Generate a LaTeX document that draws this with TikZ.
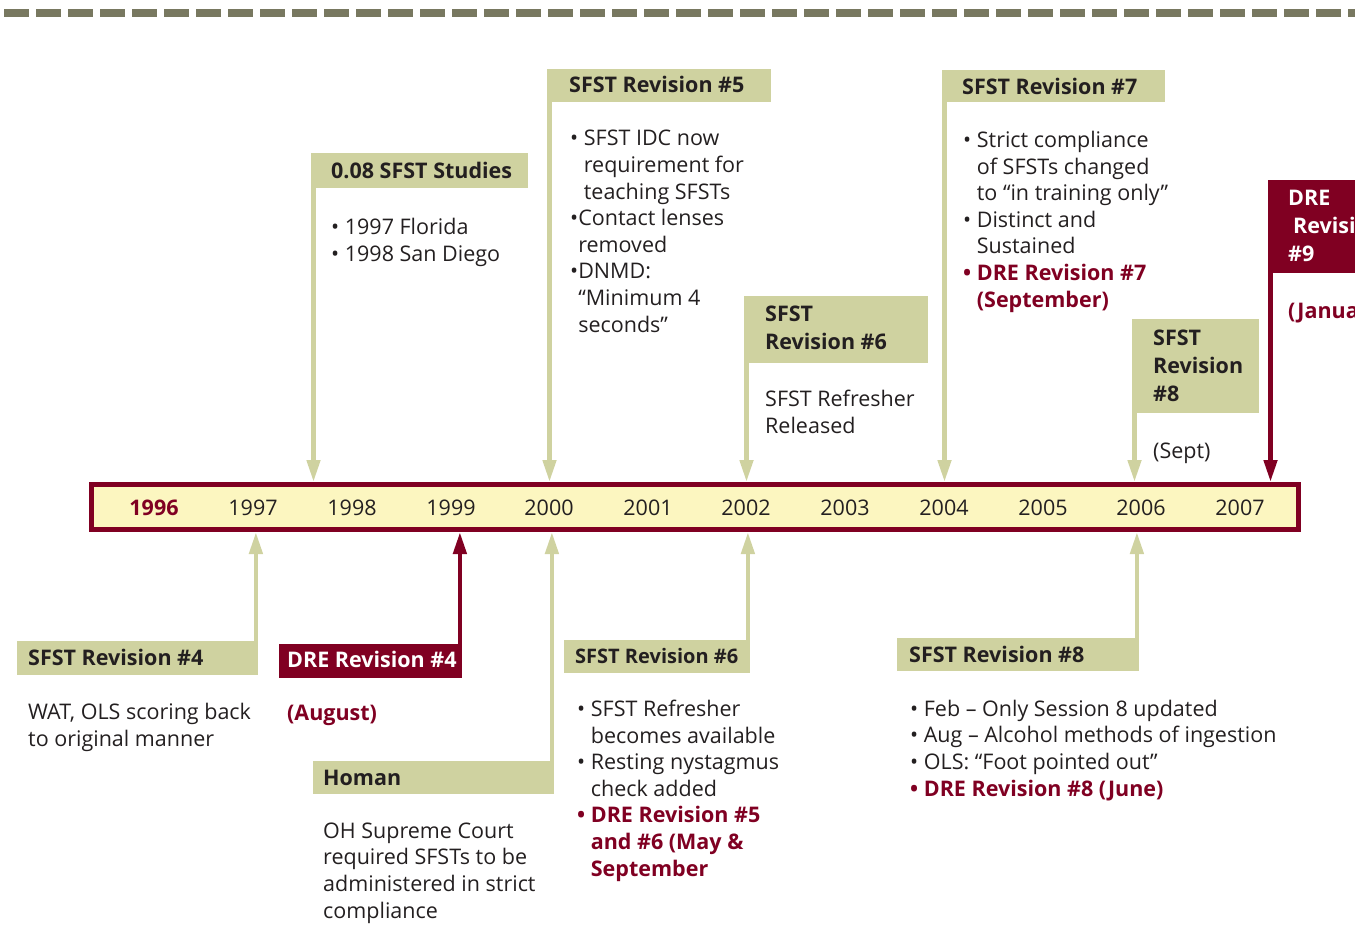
\documentclass[tikz,border=0pt]{standalone}
\usepackage{fontspec}
\setmainfont{Open Sans}
\usepackage{tikz}
\usetikzlibrary{arrows.meta}
\definecolor{olv}{HTML}{CFD2A0}
\definecolor{dr}{HTML}{800022}
\definecolor{yl}{HTML}{FCF6C0}
\definecolor{dsh}{HTML}{787860}
\definecolor{txt}{HTML}{231F20}
\tikzstyle{hbox} = [fill=olv, inner sep=0pt, anchor=north west]
\tikzstyle{rbox} = [fill=dr, inner sep=0pt, anchor=north west]
\tikzstyle{htxt} = [anchor=base west, inner sep=0pt, align=left, text=txt, font=\bfseries\fontsize{21.5}{28}\selectfont]
\tikzstyle{btxt} = [anchor=base west, inner sep=0pt, align=left, text=txt, font=\fontsize{21.5}{26.6}\selectfont]
\tikzstyle{yr} = [anchor=base, inner sep=0pt, text=txt, font=\fontsize{21.5}{26}\selectfont]
\tikzstyle{conn} = [line width=4.5pt, olv, -{Triangle[length=22pt,width=13pt]}]
\tikzstyle{rconn} = [line width=4.5pt, dr, -{Triangle[length=22pt,width=13pt]}]
\newcommand{\rd}[1]{\textcolor{dr}{\bfseries #1}}
\newcommand{\bl}{•\ }
\newcommand{\ind}{\hphantom{•\ }}

\begin{document}
\begin{tikzpicture}[x=1pt,y=-1pt]
			\useasboundingbox (0,0) rectangle (1355,930);
			\clip (0,0) rectangle (1355,930);
			\draw[line width=8pt, dsh, dash pattern=on 25pt off 7pt] (4,13) -- (1355,13);
			% time bar (text nodes sit on the baseline of their last line)
			\node[draw=dr, fill=yl, line width=5pt, anchor=north west, minimum width=1207, minimum height=45] (bar) at (89,482) {};
			\node[yr, text=dr, font=\bfseries\fontsize{21.5}{26}\selectfont] (y96) at (154,515) {1996};
			\node[yr] (y97) at (253,515) {1997};
			\node[yr] (y98) at (352,515) {1998};
			\node[yr] (y99) at (451,515) {1999};
			\node[yr] (y00) at (549,515) {2000};
			\node[yr] (y01) at (648,515) {2001};
			\node[yr] (y02) at (746,515) {2002};
			\node[yr] (y03) at (845,515) {2003};
			\node[yr] (y04) at (944,515) {2004};
			\node[yr] (y05) at (1043,515) {2005};
			\node[yr] (y06) at (1141,515) {2006};
			\node[yr] (y07) at (1240,515) {2007};
			% above the bar
			\node[hbox, minimum width=217, minimum height=35] (studies) at (311,153) {};
			\node[htxt] (studiesH) at (331,178) {0.08 SFST Studies};
			\node[btxt] (studiesB) at (331,261) {\bl 1997 Florida\\ \bl 1998 San Diego};
			\draw[conn] ([xshift=2.5]studies.south west) -- ([xshift=2.5]studies.south west |- bar.north);
			\node[hbox, minimum width=224, minimum height=33] (revfive) at (547,69) {};
			\node[htxt] (revfiveH) at (569,92) {SFST Revision \#5};
			\node[btxt] (revfiveB) at (570,332) {\bl SFST IDC now\\ \ind requirement for\\ \ind teaching SFSTs\\ •Contact lenses\\ \hphantom{•}removed\\ •DNMD:\\ \hphantom{•}“Minimum 4\\ \hphantom{•}seconds”};
			\draw[conn] ([xshift=2.5]revfive.south west) -- ([xshift=2.5]revfive.south west |- bar.north);
			\node[hbox, minimum width=184, minimum height=67] (revsix) at (744,296) {};
			\node[htxt] (revsixH) at (765,349) {SFST\\ Revision \#6};
			\node[btxt] (revsixB) at (765,433) {SFST Refresher\\ Released};
			\draw[conn] ([xshift=2.5]revsix.south west) -- ([xshift=2.5]revsix.south west |- bar.north);
			\node[hbox, minimum width=223, minimum height=32] (revseven) at (942,70) {};
			\node[htxt] (revsevenH) at (962,94) {SFST Revision \#7};
			\node[btxt] (revsevenB) at (963,307) {\bl Strict compliance\\ \ind of SFSTs changed\\ \ind to “in training only”\\ \bl Distinct and\\ \ind Sustained\\ \rd{• DRE Revision \#7}\\ \ind\rd{(September)}};
			\draw[conn] ([xshift=2.5]revseven.south west) -- ([xshift=2.5]revseven.south west |- bar.north);
			\node[hbox, minimum width=127, minimum height=94] (reveight) at (1132,319) {};
			\node[htxt] (reveightH) at (1153,401) {SFST\\ Revision\\ \#8};
			\node[btxt] (reveightB) at (1153,458) {(Sept)};
			\draw[conn] ([xshift=2.5]reveight.south west) -- ([xshift=2.5]reveight.south west |- bar.north);
			\node[rbox, minimum width=110, minimum height=93] (drenine) at (1268,180) {};
			\node[htxt, text=white] (drenineH) at (1288,261) {DRE\\ \hspace{5pt}Revision\\ \#9};
			\node[btxt] (drenineB) at (1288,318) {\rd{(January)}};
			\draw[rconn] ([xshift=2.5]drenine.south west) -- ([xshift=2.5]drenine.south west |- bar.north);
			% below the bar
			\node[hbox, minimum width=241, minimum height=34] (revfour) at (17,641) {};
			\node[htxt] (revfourH) at (28,665) {SFST Revision \#4};
			\node[btxt] (revfourB) at (28,746) {WAT, OLS scoring back\\ to original manner};
			\draw[conn] ([xshift=-2.5]revfour.north east) -- ([xshift=-2.5]revfour.north east |- bar.south);
			\node[rbox, minimum width=183, minimum height=34] (drefour) at (279,644) {};
			\node[htxt, text=white] (drefourH) at (287,667) {DRE Revision \#4};
			\node[btxt] (drefourB) at (287,720) {\rd{(August)}};
			\draw[rconn] ([xshift=-2.5]drefour.north east) -- ([xshift=-2.5]drefour.north east |- bar.south);
			\node[hbox, minimum width=241, minimum height=33] (homan) at (313,761) {};
			\node[htxt] (homanH) at (323,785) {Homan};
			\node[btxt] (homanB) at (323,918) {OH Supreme Court\\ required SFSTs to be\\ administered in strict\\ compliance};
			\draw[conn] ([xshift=-2.5]homan.north east) -- ([xshift=-2.5]homan.north east |- bar.south);
			\node[hbox, minimum width=186, minimum height=33] (revsixb) at (564,640) {};
			\node[htxt, font=\bfseries\fontsize{20}{26}\selectfont] (revsixbH) at (575,663) {SFST Revision \#6};
			\node[btxt] (revsixbB) at (577,876) {\bl SFST Refresher\\ \ind becomes available\\ \bl Resting nystagmus\\ \ind check added\\ \rd{• DRE Revision \#5}\\ \ind\rd{and \#6 (May \&}\\ \ind\rd{September}};
			\draw[conn] ([xshift=-2.5]revsixb.north east) -- ([xshift=-2.5]revsixb.north east |- bar.south);
			\node[hbox, minimum width=242, minimum height=33] (reveightb) at (897,638) {};
			\node[htxt] (reveightbH) at (909,662) {SFST Revision \#8};
			\node[btxt] (reveightbB) at (910,796) {\bl Feb -- Only Session 8 updated\\ \bl Aug -- Alcohol methods of ingestion\\ \bl OLS: “Foot pointed out”\\ \rd{• DRE Revision \#8 (June)}};
			\draw[conn] ([xshift=-2.5]reveightb.north east) -- ([xshift=-2.5]reveightb.north east |- bar.south);
		\end{tikzpicture}
\end{document}
